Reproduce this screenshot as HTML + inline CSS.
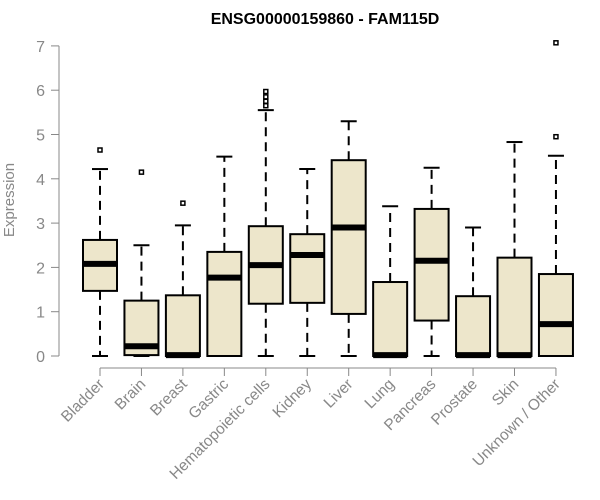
<!DOCTYPE html>
<html><head><meta charset="utf-8"><style>
body{margin:0;background:#fff}
svg{display:block;font-family:"Liberation Sans",sans-serif}
</style></head><body>
<svg id="chart" width="600" height="500" viewBox="0 0 600 500">
<text x="325" y="24" text-anchor="middle" font-weight="bold" font-size="16">ENSG00000159860 - FAM115D</text>
<text transform="translate(14,200) rotate(-90)" text-anchor="middle" font-size="15" fill="#888">Expression</text>
<g id="yaxis"></g>
<g id="xaxis"></g>
<g id="boxes"></g>
</svg>
<script>
const categories=["Bladder","Brain","Breast","Gastric","Hematopoietic cells","Kidney","Liver","Lung","Pancreas","Prostate","Skin","Unknown / Other"];
const whiskerLow=[0,0,0,0,0,0,0,0,0,0,0,0];
const q1=[1.47,0.02,0,0,1.18,1.2,0.95,0,0.8,0,0,0];
const medians=[2.08,0.22,0.02,1.77,2.05,2.28,2.9,0.02,2.15,0.02,0.02,0.72];
const q3=[2.62,1.25,1.37,2.35,2.93,2.75,4.42,1.67,3.32,1.35,2.22,1.85];
const whiskerHigh=[4.22,2.5,2.95,4.5,5.55,4.22,5.3,3.38,4.25,2.9,4.83,4.52];
const outliers=[[4.65],[4.15],[3.45],[],[5.65,5.75,5.85,5.97],[],[],[],[],[],[],[4.95,7.07]];
const yTicks=[0,1,2,3,4,5,6,7];
const NS="http://www.w3.org/2000/svg";
const y=v=>356-v*44.3;
const x=i=>100+i*41.45;
function mk(parent,tag,attrs){const e=document.createElementNS(NS,tag);for(const k in attrs)e.setAttribute(k,attrs[k]);parent.appendChild(e);return e;}
const ya=document.getElementById('yaxis'),xa=document.getElementById('xaxis'),bx=document.getElementById('boxes');
mk(ya,'line',{x1:59,x2:59,y1:y(7),y2:y(0),stroke:'#888','stroke-width':1});
yTicks.forEach(t=>{
 const l=mk(ya,'line',{x1:51,x2:59,y1:y(t),y2:y(t),stroke:'#888'});
 
 
 const tx=mk(ya,'text',{x:45,y:y(t)+6,'text-anchor':'end','font-size':16,fill:'#888'});
 tx.textContent=t;
 
 
});
mk(xa,'line',{x1:x(0),x2:x(categories.length-1),y1:368,y2:368,stroke:'#888'});
categories.forEach((c,i)=>{
 const l=mk(xa,'line',{x1:x(i),x2:x(i),y1:368,y2:376,stroke:'#888'});
 
 
 const tx=mk(xa,'text',{'text-anchor':'end','font-size':15.5,fill:'#888',transform:`translate(${x(i)+5},${385}) rotate(-45)`});
 tx.textContent=c;
 
 
 const g=mk(bx,'g',{});
 
 
 const cx=x(i);
 mk(g,'line',{x1:cx,x2:cx,y1:y(q3[i]),y2:y(whiskerHigh[i]),stroke:'#000','stroke-width':2,'stroke-dasharray':'9,6'});
 mk(g,'line',{x1:cx,x2:cx,y1:y(q1[i]),y2:y(whiskerLow[i]),stroke:'#000','stroke-width':2,'stroke-dasharray':'9,6'});
 mk(g,'line',{x1:cx-8,x2:cx+8,y1:y(whiskerHigh[i]),y2:y(whiskerHigh[i]),stroke:'#000','stroke-width':2});
 mk(g,'line',{x1:cx-8,x2:cx+8,y1:y(whiskerLow[i]),y2:y(whiskerLow[i]),stroke:'#000','stroke-width':2});
 mk(g,'rect',{x:cx-17,y:y(q3[i]),width:34,height:y(q1[i])-y(q3[i]),fill:'#ede6cb',stroke:'#000','stroke-width':2});
 mk(g,'line',{x1:cx-17,x2:cx+17,y1:y(medians[i]),y2:y(medians[i]),stroke:'#000','stroke-width':6});
 outliers[i].forEach(o=>{mk(g,'rect',{x:cx-2,y:y(o)-2,width:4,height:4,fill:'#fff',stroke:'#000','stroke-width':1.5});});
});
</script>
</body></html>
